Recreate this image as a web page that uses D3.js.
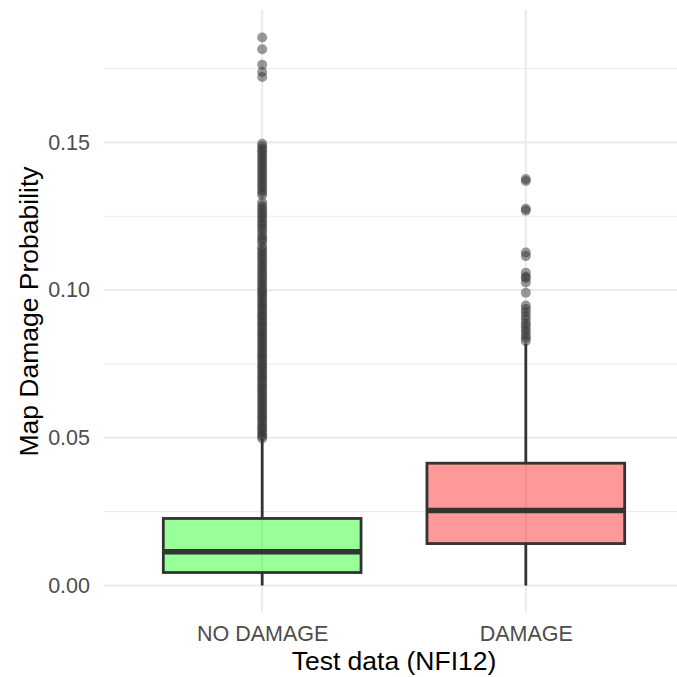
<!DOCTYPE html>
<html>
<head>
<meta charset="utf-8">
<script src="https://cdn.jsdelivr.net/npm/d3@7"></script>
<style>
  body { margin: 0; background: #fff; }
  svg { display: block; font-family: "Liberation Sans", Arial, sans-serif; }
</style>
</head>
<body>
<script>
const width = 677;
const height = 677;
const margin = ({top: 10, right: -7, bottom: 64, left: 104});

// box statistics per group
const categories = ["NO DAMAGE", "DAMAGE"];
const q1 = [0.0044, 0.0142];
const median = [0.0114, 0.0254];
const q3 = [0.0227, 0.0414];
const whiskerLow = [0.0, 0.0];
const whiskerHigh = [0.0497, 0.0819];
const fills = ["#00FF00", "#FF0000"];

// outliers
const outliersNoDamage = [
  0.0498, 0.0505, 0.0512, 0.052, 0.0527, 0.0535, 0.0541, 0.055, 0.0558, 0.0566,
  0.0573, 0.058, 0.0589, 0.0596, 0.0604, 0.0611, 0.062, 0.0628, 0.0635, 0.0643,
  0.065, 0.0659, 0.0666, 0.0674, 0.0681, 0.069, 0.0698, 0.0705, 0.0713, 0.072,
  0.0729, 0.0736, 0.0744, 0.0751, 0.076, 0.0768, 0.0775, 0.0783, 0.079, 0.0799,
  0.0806, 0.0814, 0.0821, 0.083, 0.0838, 0.0845, 0.0853, 0.086, 0.0869, 0.0876,
  0.0884, 0.0891, 0.09, 0.0908, 0.0915, 0.0923, 0.093, 0.0939, 0.0946, 0.0954,
  0.0961, 0.097, 0.0978, 0.0985, 0.0993, 0.1,
  0.1009, 0.1018, 0.1026, 0.1035, 0.1043, 0.1052, 0.106, 0.1069, 0.1078, 0.1086,
  0.1095, 0.1104, 0.1113, 0.1121, 0.113, 0.1139, 0.1147, 0.1162, 0.117, 0.1178,
  0.1187, 0.1199, 0.1208, 0.1217, 0.1225, 0.1234, 0.1243, 0.1252, 0.126, 0.1269,
  0.1278, 0.1286, 0.1297, 0.1322, 0.133, 0.1339, 0.1348, 0.1356, 0.1365, 0.1374,
  0.1383, 0.1391, 0.14, 0.1409, 0.1418, 0.1426, 0.1435, 0.1444, 0.1452, 0.1461,
  0.147, 0.1478, 0.1487, 0.1495,
  0.1721, 0.1738, 0.1763, 0.1815, 0.1855
];
const outliersDamage = [
  0.0828, 0.0838, 0.0847, 0.0858, 0.0868, 0.0879, 0.0888, 0.0901, 0.0912, 0.0925,
  0.0936, 0.0948, 0.0991, 0.1026, 0.1041, 0.1045, 0.1059, 0.1115, 0.1127,
  0.1269, 0.1275, 0.1369, 0.1376
];
const outliers = [outliersNoDamage, outliersDamage];

const yTicks = [0, 0.05, 0.10, 0.15];
const yMinor = [0.025, 0.075, 0.125, 0.175];

const xScale = d3.scalePoint()
  .domain(categories)
  .range([margin.left, width - margin.right])
  .padding(0.6);

const yScale = d3.scaleLinear()
  .domain([-0.0093, 0.1948])
  .range([height - margin.bottom, margin.top]);

const boxWidth = xScale.step() * 0.75;

const svg = d3.select("body").append("svg")
  .attr("width", width)
  .attr("height", height);

// grid
const grid = svg.append("g");
grid.selectAll("line.minor")
  .data(yMinor)
  .enter().append("line")
  .attr("x1", margin.left).attr("x2", width - margin.right)
  .attr("y1", d => yScale(d)).attr("y2", d => yScale(d))
  .attr("stroke", "#ebebeb").attr("stroke-width", 1.1);
grid.selectAll("line.major")
  .data(yTicks)
  .enter().append("line")
  .attr("x1", margin.left).attr("x2", width - margin.right)
  .attr("y1", d => yScale(d)).attr("y2", d => yScale(d))
  .attr("stroke", "#ebebeb").attr("stroke-width", 2.1);
grid.selectAll("line.vmajor")
  .data(categories)
  .enter().append("line")
  .attr("x1", d => xScale(d)).attr("x2", d => xScale(d))
  .attr("y1", margin.top).attr("y2", height - margin.bottom)
  .attr("stroke", "#ebebeb").attr("stroke-width", 2.1);

// boxes
categories.forEach(function(c, i) {
  const x = xScale(c);
  const g = svg.append("g");

  g.selectAll("circle")
    .data(outliers[i])
    .enter().append("circle")
    .attr("cx", x)
    .attr("cy", d => yScale(d))
    .attr("r", 5)
    .attr("fill", "#333333")
    .attr("fill-opacity", 0.5);

  g.append("line")
    .attr("x1", x).attr("x2", x)
    .attr("y1", yScale(whiskerLow[i])).attr("y2", yScale(q1[i]))
    .attr("stroke", "#333333").attr("stroke-width", 2.8);
  g.append("line")
    .attr("x1", x).attr("x2", x)
    .attr("y1", yScale(q3[i])).attr("y2", yScale(whiskerHigh[i]))
    .attr("stroke", "#333333").attr("stroke-width", 2.8);

  g.append("rect")
    .attr("x", x - boxWidth / 2)
    .attr("y", yScale(q3[i]))
    .attr("width", boxWidth)
    .attr("height", yScale(q1[i]) - yScale(q3[i]))
    .attr("fill", fills[i])
    .attr("fill-opacity", 0.4)
    .attr("stroke", "#333333")
    .attr("stroke-width", 2.8);

  g.append("line")
    .attr("x1", x - boxWidth / 2).attr("x2", x + boxWidth / 2)
    .attr("y1", yScale(median[i])).attr("y2", yScale(median[i]))
    .attr("stroke", "#333333").attr("stroke-width", 5.5);
});

// axes (no domain line, no ticks, like theme_minimal)
const yAxis = d3.axisLeft(yScale)
  .tickValues(yTicks)
  .tickFormat(d3.format(".2f"))
  .tickSize(0)
  .tickPadding(14);
svg.append("g")
  .attr("transform", "translate(" + margin.left + ",0)")
  .call(yAxis)
  .call(g => g.select(".domain").remove())
  .selectAll("text")
  .attr("fill", "#4d4d4d")
  .attr("font-size", 21.5)
  .attr("font-family", "Liberation Sans, Arial, sans-serif");

const xAxis = d3.axisBottom(xScale)
  .tickSize(0)
  .tickPadding(13);
svg.append("g")
  .attr("transform", "translate(0," + (height - margin.bottom) + ")")
  .call(xAxis)
  .call(g => g.select(".domain").remove())
  .selectAll("text")
  .attr("fill", "#4d4d4d")
  .attr("font-size", 21.5)
  .attr("font-family", "Liberation Sans, Arial, sans-serif");

// axis titles
svg.append("text")
  .attr("x", (margin.left + width - margin.right) / 2)
  .attr("y", 670)
  .attr("text-anchor", "middle")
  .attr("font-size", 26.5)
  .attr("fill", "#000")
  .text("Test data (NFI12)");

svg.append("text")
  .attr("transform", "translate(38," + ((margin.top + height - margin.bottom) / 2) + ") rotate(-90)")
  .attr("text-anchor", "middle")
  .attr("font-size", 26.5)
  .attr("fill", "#000")
  .text("Map Damage Probability");
</script>
</body>
</html>
